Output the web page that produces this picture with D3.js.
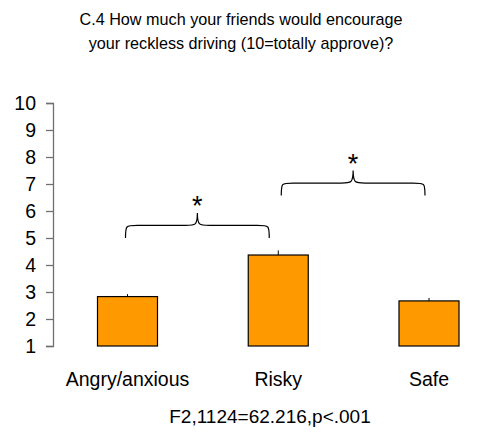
<!DOCTYPE html>
<html><head><meta charset="utf-8">
<script src="https://cdn.jsdelivr.net/npm/d3@7"></script>
<style>body{margin:0;background:#fff}svg{display:block}text{font-family:"Liberation Sans",Arial,sans-serif;fill:#000}</style>
</head><body>
<script>
const categories = ["Angry/anxious", "Risky", "Safe"];
const means = [2.83, 4.37, 2.67];
const errors = [0.09, 0.17, 0.11];
const yTicks = [1,2,3,4,5,6,7,8,9,10];
const titleLines = ["C.4 How much your friends would encourage", "your reckless driving (10=totally approve)?"];
const footnote = "F2,1124=62.216,p<.001";
// significance braces: [from category, to category, level of ends, level of tip]
const braceFrom = ["Angry/anxious", "Risky"];
const braceTo = ["Risky", "Safe"];
const braceBase = [5.0, 6.57];
const braceTip = [5.93, 7.5];

const W = 481, H = 432;
const svg = d3.select("body").append("svg").attr("width", W).attr("height", H);

const y = d3.scaleLinear().domain([1, 10]).range([346, 103]);
const x = d3.scalePoint().domain(categories).range([127.5, 429]);
const bw = 60;

// title
svg.append("g").selectAll("text").data(titleLines).join("text")
  .attr("x", 241).attr("y", (d, i) => 25 + i * 24)
  .attr("text-anchor", "middle").style("font-size", "16.2px").text(d => d);

// y axis
const ax = svg.append("g").attr("transform", "translate(53,0)")
  .call(d3.axisLeft(y).tickValues(yTicks).tickSize(7).tickPadding(10).tickFormat(d3.format("d")));
ax.select(".domain").attr("stroke", "#707070").attr("stroke-width", 1.3);
ax.selectAll(".tick line").attr("stroke", "#707070").attr("stroke-width", 1.3);
ax.selectAll(".tick text").style("font-size", "19.5px").style("font-family", "Liberation Sans, Arial, sans-serif");

// bars
svg.append("g").selectAll("rect").data(categories).join("rect")
  .attr("x", d => x(d) - bw / 2).attr("width", bw)
  .attr("y", (d, i) => y(means[i])).attr("height", (d, i) => y(1) - y(means[i]))
  .attr("fill", "#ff9900").attr("stroke", "#000").attr("stroke-width", 1.2);

// error bars
svg.append("g").selectAll("line").data(categories).join("line")
  .attr("x1", d => x(d)).attr("x2", d => x(d))
  .attr("y1", (d, i) => y(means[i])).attr("y2", (d, i) => y(means[i] + errors[i]))
  .attr("stroke", "#000").attr("stroke-width", 1);

// category labels
svg.append("g").selectAll("text").data(categories).join("text")
  .attr("x", d => x(d)).attr("y", 386).attr("text-anchor", "middle")
  .style("font-size", "19.5px").text(d => d);

// footnote
svg.append("text").attr("x", 270).attr("y", 423).attr("text-anchor", "middle")
  .style("font-size", "19px").text(footnote);

// braces
function bracePath(x0, x1, yb, yt) {
  const xm = (x0 + x1) / 2;
  const yf = (yb + yt) / 2;
  const r = Math.min(12, (yb - yf));
  return `M${x0},${yb} C${x0},${yf} ${x0},${yf} ${x0 + r},${yf} L${xm - 12},${yf} C${xm - 2},${yf} ${xm},${yf} ${xm},${yt} C${xm},${yf} ${xm + 2},${yf} ${xm + 12},${yf} L${x1 - r},${yf} C${x1},${yf} ${x1},${yf} ${x1},${yb}`;
}
const bg = svg.append("g");
braceFrom.forEach((f, i) => {
  const adj0 = i === 0 ? -2 : 3, adj1 = i === 0 ? -9 : -4;
  const a = x(f) + adj0, b = x(braceTo[i]) + adj1;
  bg.append("path").attr("d", bracePath(a, b, y(braceBase[i]), y(braceTip[i])))
    .attr("fill", "none").attr("stroke", "#000").attr("stroke-width", 1.2);
  bg.append("text").attr("x", (a + b) / 2).attr("y", y(braceTip[i]) + 2)
    .attr("text-anchor", "middle").style("font-size", "27px").text("*");
});
</script>
</body></html>
